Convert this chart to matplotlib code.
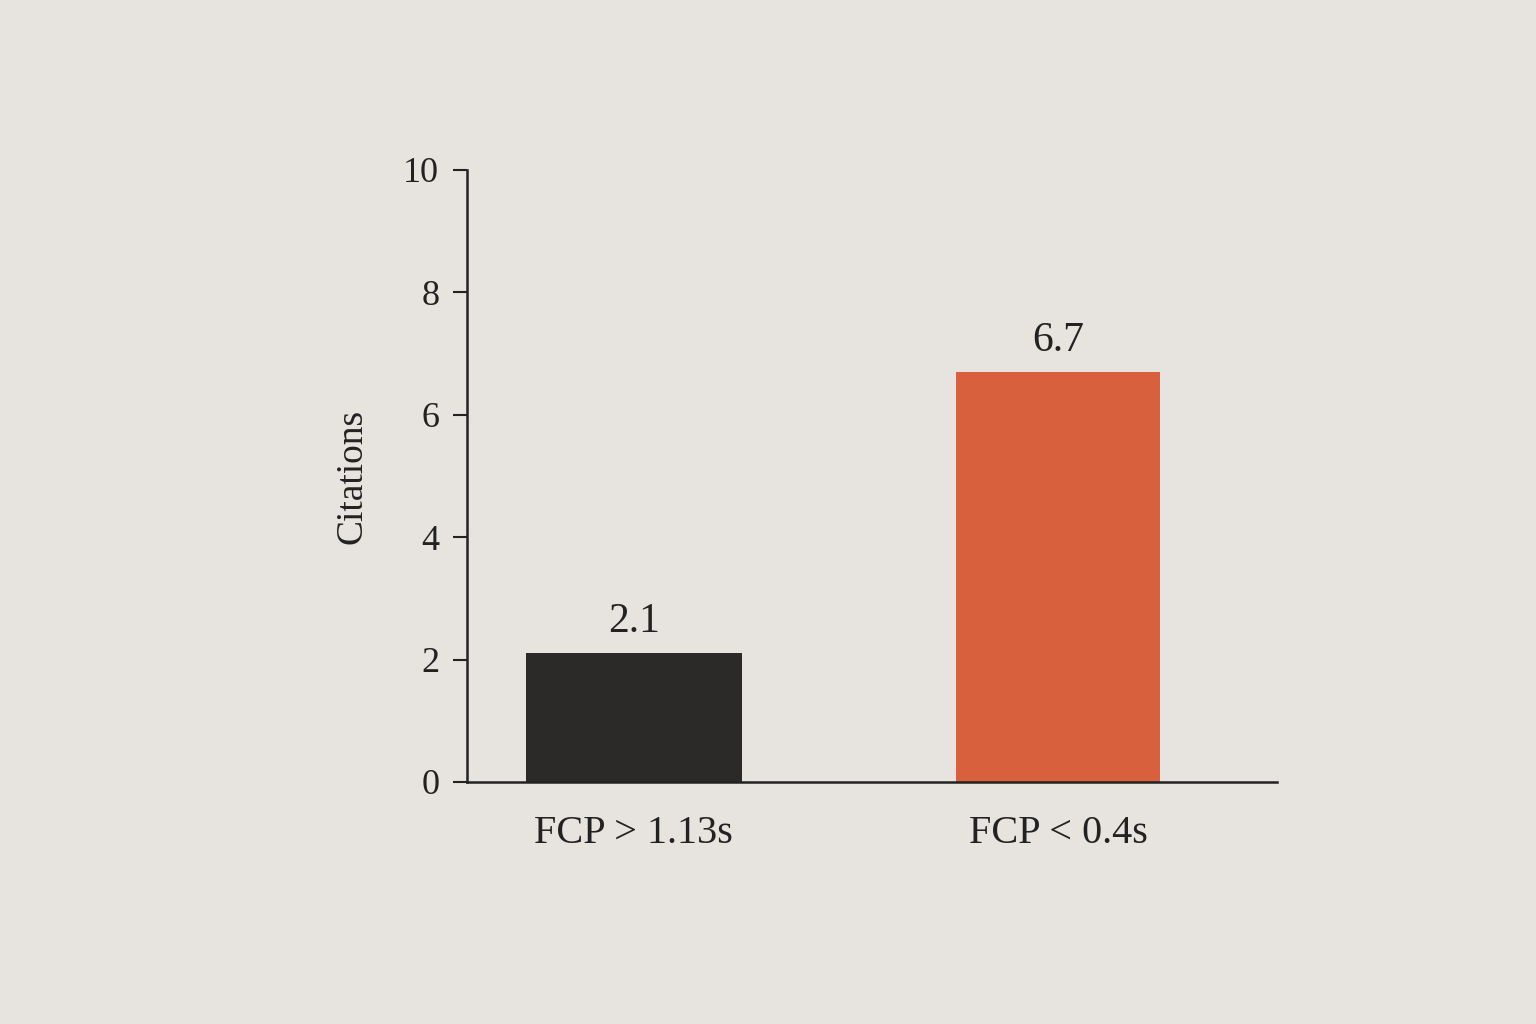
import matplotlib
matplotlib.use("Agg")
import matplotlib.pyplot as plt

categories = ["FCP > 1.13s", "FCP < 0.4s"]
values = [2.1, 6.7]
value_labels = ["2.1", "6.7"]
colors = ["#2b2a28", "#d8603c"]
yticks = [0, 2, 4, 6, 8, 10]

plt.rcParams['font.family'] = ['Liberation Serif', 'DejaVu Serif']

fig = plt.figure(figsize=(15.36, 10.24), dpi=100, facecolor="#e7e3de")
ax = fig.add_axes([467/1536, 1-782/1024, (1277-467)/1536, (782-170)/1024])
ax.set_facecolor("none")

x = list(range(len(categories)))
ax.bar(x, values, width=[0.51, 0.48], color=colors)
for xi, v, lab in zip(x, values, value_labels):
    ax.text(xi, v + 0.2, lab, ha="center", va="bottom", fontsize=30, color="#222222")

ax.set_xlim(-0.393, 1.515)
ax.set_ylim(0, 10)
ax.set_yticks(yticks)
ax.set_yticklabels([str(t) for t in yticks], fontsize=26, color="#222222")
ax.set_xticks(x)
ax.set_xticklabels(categories, fontsize=29, color="#222222")
ax.tick_params(axis="x", length=0, pad=24)
ax.tick_params(axis="y", length=10, width=1.5, color="#222222", pad=10)
ax.set_ylabel("Citations", fontsize=27, color="#222222", labelpad=24)

for s in ["top", "right"]:
    ax.spines[s].set_visible(False)
ax.spines["left"].set_linewidth(1.8)
ax.spines["bottom"].set_linewidth(1.8)
ax.spines["left"].set_color("#222222")
ax.spines["bottom"].set_color("#222222")

fig.savefig("out.png", dpi=100, facecolor=fig.get_facecolor())
